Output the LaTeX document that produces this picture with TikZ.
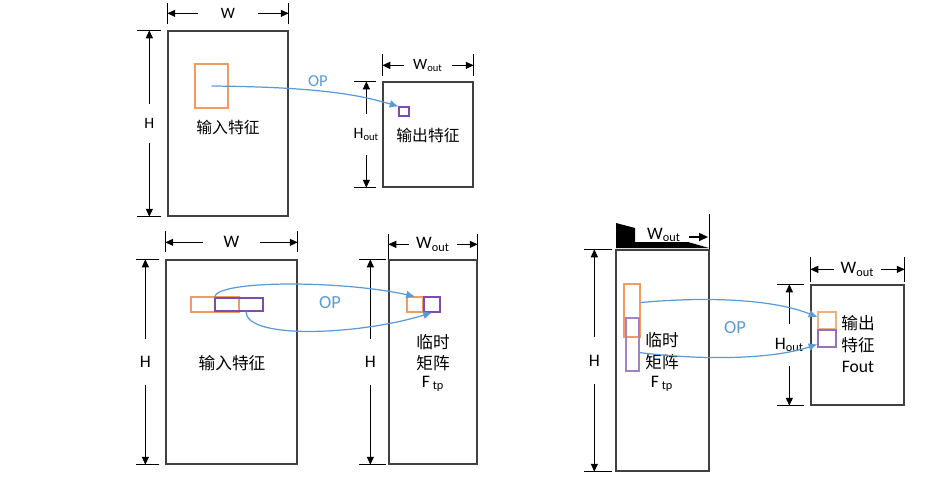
\documentclass[tikz,border=0pt]{standalone}
\usepackage{fontspec}
\setmainfont{Carlito}
\newfontfamily\cjk{Noto Sans CJK SC}
\usetikzlibrary{fit,calc,arrows.meta}
\definecolor{boxgray}{HTML}{404040}
\definecolor{opblue}{HTML}{5B9BD5}
\definecolor{inorange}{HTML}{F19B5E}
\definecolor{outpurple}{HTML}{7E4BB0}
\begin{document}
\begin{tikzpicture}[x=0.02cm,y=-0.02cm,
  mapbox/.style={draw=boxgray,line width=0.75pt,inner sep=0pt},
  winbox/.style={draw=#1,line width=0.6pt,inner sep=0pt},
  dimline/.style={{Triangle[length=4.5pt,width=4pt]}-{Triangle[length=4.5pt,width=4pt]},line width=0.55pt},
  tickline/.style={line width=0.55pt},
  dimlabel/.style={fill=white,inner xsep=5pt,inner ysep=3pt,font=\fontsize{10}{11}\selectfont},
  oparrow/.style={draw=opblue,line width=0.7pt,-{Latex[length=5pt,width=4.5pt]}},
  oplabel/.style={text=opblue,font=\fontsize{10.5}{11}\selectfont},
  cntext/.style={font=\cjk\fontsize{9.5}{11}\selectfont,align=center}]
\useasboundingbox (0,0) rectangle (950,495);

% top: input feature -> output feature
\node[mapbox,fit={(168,31) (288,216)}] (in1) {};
\node[mapbox,fit={(383,82) (473,187)}] (out1) {};
\node[winbox=inorange,fit={(195,64) (228,108)}] (win1) {};
\node[winbox=outpurple,fit={(399,107) (409,116)}] (px1) {};
\node[cntext,font=\cjk\fontsize{9}{10}\selectfont] (txt1) at (228,127) {输入特征};
\node[cntext,font=\cjk\fontsize{9}{10}\selectfont] (txt2) at (428,135) {输出特征};

\draw[tickline] ($(in1.north west)+(0,-6)$) -- ++(0,-21);
\draw[tickline] ($(in1.north east)+(0,-6)$) -- ++(0,-21);
\draw[dimline] ($(in1.north west)+(0,-17)$) -- node[dimlabel,inner xsep=13pt,font=\fontsize{9}{10}\selectfont]{W} ($(in1.north east)+(0,-17)$);
\draw[tickline] ($(in1.north west)+(-6,0)$) -- ++(-24,0);
\draw[tickline] ($(in1.south west)+(-6,0)$) -- ++(-24,0);
\draw[dimline] ($(in1.north west)+(-18,0)$) -- node[dimlabel,inner ysep=8pt,font=\fontsize{9}{10}\selectfont]{H} ($(in1.south west)+(-18,0)$);

\draw[tickline] ($(out1.north west)+(0,-5)$) -- ++(0,-22);
\draw[tickline] ($(out1.north east)+(0,-5)$) -- ++(0,-22);
\draw[dimline] ($(out1.north west)+(0,-16)$) -- node[dimlabel,font=\fontsize{9}{10}\selectfont]{W\textsubscript{out}} ($(out1.north east)+(0,-16)$);
\draw[tickline] ($(out1.north west)+(-6,0)$) -- ++(-22,0);
\draw[tickline] ($(out1.south west)+(-6,0)$) -- ++(-22,0);
\draw[dimline] ($(out1.north west)+(-16,0)$) -- node[dimlabel,inner xsep=1pt,inner ysep=8pt,font=\fontsize{9}{10}\selectfont]{H\textsubscript{out}} ($(out1.south west)+(-16,0)$);

\draw[oparrow] (win1.center) .. controls (320,87) and (360,95) .. (px1.north west);
\node[oplabel,font=\fontsize{9.5}{10}\selectfont] (op1) at (318,81) {OP};

% bottom left: input feature -> temporary matrix
\node[mapbox,fit={(166,260) (297,464)}] (in2) {};
\node[mapbox,fit={(389,260) (477,464)}] (tp2) {};
\node[winbox=inorange,fit={(191,297) (239,312)}] (wo2) {};
\node[winbox=outpurple,fit={(215,298) (263,311)}] (wp2) {};
\node[winbox=inorange,fit={(407,297) (423,312)}] (fo2) {};
\node[winbox=outpurple,fit={(424,297) (440,312)}] (fp2) {};
\node[cntext] (txt3) at (232,363) {输入特征};
\node[cntext] (txt4) at (433,342) {临时};
\node[cntext] (txt5) at (433,363) {矩阵};
\node[font=\fontsize{10}{11}\selectfont] (txt6) at (433,384) {F\,\textsubscript{tp}};

\draw[tickline] ($(in2.north west)+(0,-7)$) -- ++(0,-21);
\draw[tickline] ($(in2.north east)+(0,-7)$) -- ++(0,-21);
\draw[dimline] ($(in2.north west)+(0,-17)$) -- node[dimlabel,inner xsep=12pt]{W} ($(in2.north east)+(0,-17)$);
\draw[tickline] ($(in2.north west)+(-6,0)$) -- ++(-23,0);
\draw[tickline] ($(in2.south west)+(-6,0)$) -- ++(-23,0);
\draw[dimline] ($(in2.north west)+(-20,0)$) -- node[dimlabel,inner ysep=10pt]{H} ($(in2.south west)+(-20,0)$);

\draw[tickline] (tp2.north west) -- ++(0,-25);
\draw[tickline] (tp2.north east) -- ++(0,-25);
\draw[dimline] ($(tp2.north west)+(0,-15)$) -- node[dimlabel,inner xsep=4pt]{W\textsubscript{out}} ($(tp2.north east)+(0,-15)$);
\draw[tickline] ($(tp2.north west)+(-2,0)$) -- ++(-27,0);
\draw[tickline] ($(tp2.south west)+(-2,0)$) -- ++(-27,0);
\draw[dimline] ($(tp2.north west)+(-18,0)$) -- node[dimlabel,inner ysep=10pt]{H} ($(tp2.south west)+(-18,0)$);

\draw[oparrow] (wp2.north west) .. controls (215,280) and (340,280) .. (fo2.north);
\draw[oparrow] ($(wp2.south)+(7,0)$) .. controls (246,340) and (360,335) .. (fp2.south);
\node[oplabel] (op2) at (330,303) {OP};

% bottom right: temporary matrix -> output feature
\node[mapbox,fit={(616,250) (709,471)}] (tp3) {};
\node[mapbox,fit={(811,285) (904,405)}] (out3) {};
\node[winbox=inorange,fit={(624,284) (640,337)}] (wo3) {};
\node[winbox=outpurple!70,fit={(626,318) (639,371)}] (wp3) {};
\node[winbox=inorange!80,fit={(818,312) (836,329)}] (fo3) {};
\node[winbox=outpurple!80,fit={(818,330) (836,347)}] (fp3) {};
\node[cntext] (txt7) at (662,340) {临时};
\node[cntext] (txt8) at (662,362) {矩阵};
\node[font=\fontsize{10}{11}\selectfont] (txt9) at (662,384) {F\,\textsubscript{tp}};
\node[cntext] (txt10) at (858,323) {输出};
\node[cntext] (txt11) at (858,345) {特征};
\node[font=\fontsize{10}{11}\selectfont] (txt12) at (858,367) {Fout};

\fill (616,223) -- (635,228) -- (635,242) -- (688,242) -- (709,248) -- (616,248) -- cycle;
\draw[tickline] (tp3.north east) -- ++(0,-35);
\coordinate (wr3) at (689,237);
\coordinate (we3) at (708,237);
\draw[line width=0.7pt,-{Triangle[length=5pt,width=4.5pt]}] (wr3) -- (we3);
\node[font=\fontsize{10}{11}\selectfont] (wl3) at (664,235) {W\textsubscript{out}};
\draw[tickline] ($(tp3.north west)+(-3,0)$) -- ++(-28,0);
\draw[tickline] ($(tp3.south west)+(-3,0)$) -- ++(-28,0);
\draw[dimline] ($(tp3.north west)+(-21,0)$) -- node[dimlabel,inner ysep=10pt]{H} ($(tp3.south west)+(-21,0)$);

\draw[tickline] ($(out3.north west)+(0,-2)$) -- ++(0,-25);
\draw[tickline] ($(out3.north east)+(0,-2)$) -- ++(0,-25);
\draw[dimline] ($(out3.north west)+(0,-15)$) -- node[dimlabel,inner xsep=4pt]{W\textsubscript{out}} ($(out3.north east)+(0,-15)$);
\draw[tickline] ($(out3.north west)+(-6,0)$) -- ++(-27,0);
\draw[tickline] ($(out3.south west)+(-6,0)$) -- ++(-27,0);
\draw[dimline] ($(out3.north west)+(-21,0)$) -- node[dimlabel,inner xsep=1pt,inner ysep=8pt]{H\textsubscript{out}} ($(out3.south west)+(-21,0)$);

\draw[oparrow] (wo3.43) .. controls (700,297) and (770,298) .. (fo3.160);
\draw[oparrow] (wp3.-49) .. controls (700,360) and (770,360) .. (fp3.-149);
\node[oplabel] (op3) at (735,328) {OP};
\end{tikzpicture}
\end{document}
